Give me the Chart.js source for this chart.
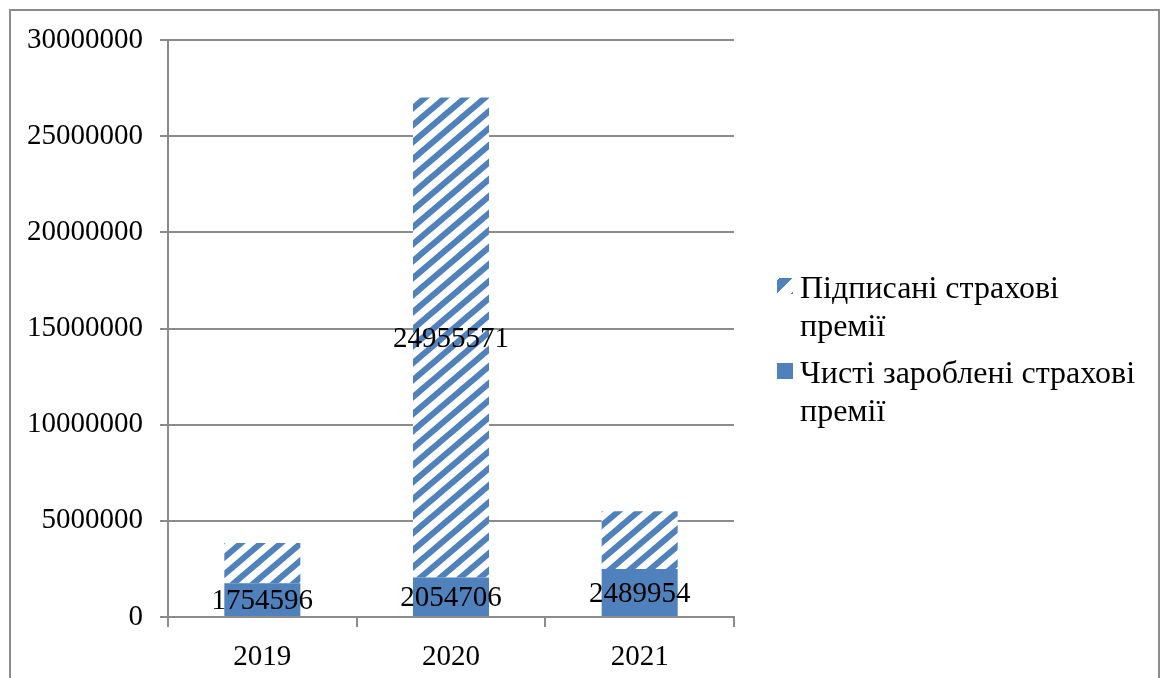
<!DOCTYPE html>
<html>
<head>
<meta charset="utf-8">
<script src="https://cdn.jsdelivr.net/npm/chart.js@4.4.0/dist/chart.umd.min.js"></script>
<style>
  body { margin: 0; background: #fff; }
  #wrap { position: relative; width: 1161px; height: 678px; overflow: hidden; }
  #frame { position: absolute; left: 9px; top: 9px; width: 1147px; height: 720px; border: 2px solid #8c8c8c; }
  #chart { position: absolute; left: 0; top: 0; }
  #legend { position: absolute; left: 776px; top: 268px; font-family: "Liberation Serif", serif; font-size: 32px; line-height: 38px; color: #000; }
  .item { position: relative; padding-left: 24px; margin-bottom: 9px; }
  .sw { position: absolute; left: 1px; top: 10px; width: 16px; height: 16px; }
</style>
</head>
<body>
<div id="wrap">
  <div id="frame"></div>
  <canvas id="chart" width="1161" height="678"></canvas>
  <div id="legend"></div>
</div>
<script>
const years = ["2019", "2020", "2021"];
const netEarned = [1754596, 2054706, 2489954];
const written = [2090000, 24955571, 3010000];
const showWritten = [false, true, false];
const yTicks = [0, 5000000, 10000000, 15000000, 20000000, 25000000, 30000000];

const writtenLegend = ["Підписані страхові", "премії"];
const netLegend = ["Чисті зароблені страхові", "премії"];

const blue = "#4f81bd";

// diagonal hatch tile, stripes going up to the right
function hatch() {
  let w = 20, h = 17;
  let c = document.createElement("canvas");
  c.width = w;
  c.height = h;
  let ctx = c.getContext("2d");
  ctx.fillStyle = "#fff";
  ctx.fillRect(0, 0, w, h);
  ctx.strokeStyle = blue;
  ctx.lineWidth = 6;
  ctx.beginPath();
  for (let k = -1; k <= 1; k++) {
    ctx.moveTo(k * w - w, 2 * h);
    ctx.lineTo(k * w + 2 * w, -h);
  }
  ctx.stroke();
  return c;
}
const chartEl = document.getElementById("chart");
const pattern = chartEl.getContext("2d").createPattern(hatch(), "repeat");

// value labels in the middle of the segments
const barLabels = {
  id: "barLabels",
  afterDatasetsDraw(chart) {
    let ctx = chart.ctx;
    ctx.save();
    ctx.font = '29px "Liberation Serif"';
    ctx.fillStyle = "#000";
    ctx.textAlign = "center";
    ctx.textBaseline = "middle";
    chart.data.datasets.forEach((ds, i) => {
      chart.getDatasetMeta(i).data.forEach((bar, j) => {
        if (ds.showLabel && !ds.showLabel[j]) return;
        let y = (bar.y + bar.base) / 2;
        ctx.fillText(String(ds.data[j]), bar.x, y + 2);
      });
    });
    ctx.restore();
  },
};

const gridColor = "#8c8c8c";

new Chart(chartEl, {
  type: "bar",
  data: {
    labels: years,
    datasets: [
      {
        label: netLegend.join(" "),
        data: netEarned,
        backgroundColor: blue,
        barPercentage: 0.403,
        categoryPercentage: 1,
      },
      {
        label: writtenLegend.join(" "),
        data: written,
        backgroundColor: pattern,
        showLabel: showWritten,
        barPercentage: 0.403,
        categoryPercentage: 1,
      },
    ],
  },
  options: {
    responsive: false,
    animation: false,
    layout: { padding: { left: 0, top: 40, right: 427, bottom: 0 } },
    plugins: { legend: { display: false }, tooltip: { enabled: false } },
    scales: {
      x: {
        stacked: true,
        grid: { offset: true, drawOnChartArea: false, drawTicks: true, tickLength: 10, color: gridColor, lineWidth: 2 },
        border: { color: gridColor, width: 2 },
        ticks: { color: "#000", font: { family: "Liberation Serif", size: 29 }, padding: 13 },
        afterFit: (s) => { s.height = 61; },
      },
      y: {
        stacked: true,
        min: 0,
        max: 30000000,
        afterBuildTicks: (s) => { s.ticks = yTicks.map((v) => ({ value: v })); },
        grid: { color: gridColor, lineWidth: 2, tickLength: 8 },
        border: { color: gridColor, width: 2 },
        ticks: { color: "#000", font: { family: "Liberation Serif", size: 29 }, padding: 17, callback: (v) => String(v) },
        afterFit: (s) => { s.width = 168; },
      },
    },
  },
  plugins: [barLabels],
});

// legend with wrapped lines
const legend = document.getElementById("legend");
[[writtenLegend, true], [netLegend, false]].forEach(([lines, hatched]) => {
  let item = document.createElement("div");
  item.className = "item";
  let sw = document.createElement("div");
  sw.className = "sw";
  if (hatched) {
    sw.style.background = "linear-gradient(135deg, transparent 0 8%, " + blue + " 8% 48%, transparent 48% 92%, " + blue + " 92%)";
  } else {
    sw.style.background = blue;
  }
  item.appendChild(sw);
  lines.forEach((t, k) => {
    if (k) item.appendChild(document.createElement("br"));
    item.appendChild(document.createTextNode(t));
  });
  legend.appendChild(item);
});
</script>
</body>
</html>
